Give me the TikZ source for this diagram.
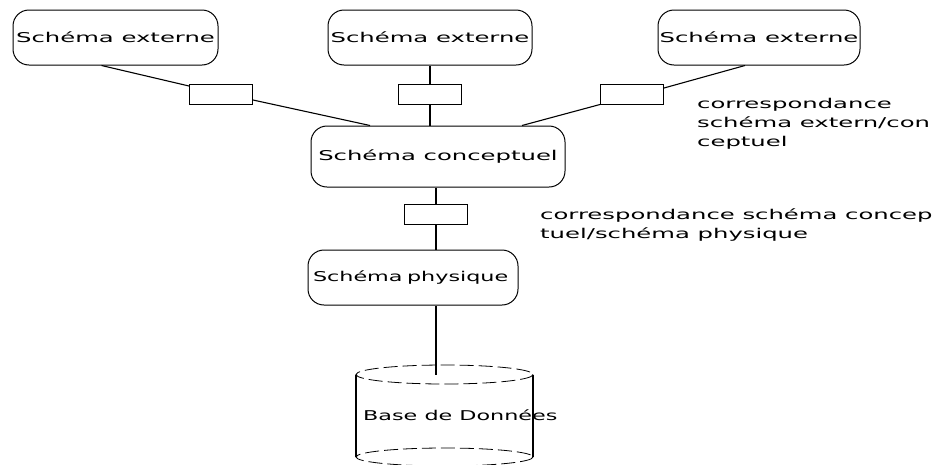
\documentclass[tikz,border=0pt]{standalone}
\usepackage{fontspec}
\newfontfamily\diagfont[FakeStretch=1.8]{DejaVu Sans}
\newfontfamily\diagfontnarrow[FakeStretch=1.65]{DejaVu Sans}
\usetikzlibrary{positioning}

\begin{document}
\begin{tikzpicture}[
    x=1pt, y=-1pt,
    txt/.style={font=\diagfont\fontsize{13.5}{19}\selectfont},
    narrowtxt/.style={font=\diagfontnarrow\fontsize{13.5}{19}\selectfont},
    schema/.style={draw, txt, line width=1pt, rounded corners=16pt, inner sep=0pt, minimum height=55pt},
    mapbox/.style={draw, line width=1pt, inner sep=0pt, minimum width=63pt, minimum height=20pt},
    note/.style={txt, align=left, anchor=north west, inner sep=0pt},
    link/.style={line width=1.1pt},
    rim/.style={line width=0.8pt, dash pattern=on 14pt off 5pt}
]
\useasboundingbox (0,0) rectangle (936,464);

% Schemas
\node[schema, minimum width=205pt] (ext1) at (115.5,37.5) {Schéma externe};
\node[schema, minimum width=204pt] (ext2) at (430,37.5) {Schéma externe};
\node[schema, minimum width=202pt] (ext3) at (759,37.5) {Schéma externe};
\node[schema, minimum width=254pt, minimum height=61pt] (concept) at (438,156.5) {Schéma conceptuel};
\node[schema, narrowtxt, minimum width=210pt, text width=200pt, align=left] (physique) at (413,277.5) {Schéma physique\\[6pt]};

% Mapping boxes
\node[mapbox] (map1) at (221,94) {};
\node[mapbox] (map2) at (430,94) {};
\node[mapbox] (map3) at (632,94) {};
\node[mapbox] (map4) at (436,214) {};

% Notes
\node[note] (note1) at (697,98) {correspondance\\schéma extern/con\\ceptuel};
\node[note] (note2) at (540,208) {correspondance schéma concep\\tuel/schéma physique};

% External -> conceptual
\draw[link] ([xshift=-14pt]ext1.south) -- ([yshift=8pt]map1.west);
\draw[link] ([yshift=-6pt]map1.east) -- ([xshift=-68pt]concept.north);
\draw[link] (ext2.south) -- (map2.north);
\draw[link] (map2.south) -- (map2.south |- concept.north);
\draw[link] ([xshift=-14pt]ext3.south) -- ([yshift=6pt]map3.east);
\draw[link] (map3.south west) -- ([xshift=84pt]concept.north);

% Conceptual -> physical
\draw[link] (map4.north |- concept.south) -- (map4.north);
\draw[link] (map4.south) -- (map4.south |- physique.north);

% Database
\coordinate (dbtop) at (444.5,374.5);
\coordinate (dbbot) at (444.5,457);
\draw[link] ([xshift=-88.5pt]dbtop) -- ([xshift=-88.5pt]dbbot);
\draw[link] ([xshift=88.5pt]dbtop) -- ([xshift=88.5pt]dbbot);
\draw[rim] (dbtop) ellipse [x radius=88.5, y radius=9.5];
\draw[rim] (dbbot) ellipse [x radius=88.5, y radius=9];
\node[narrowtxt, anchor=west, inner sep=0pt] (db) at (363,415) {Base de Données};
\draw[link] (map4.south |- physique.south) -- (map4.south |- dbtop);
\end{tikzpicture}
\end{document}
